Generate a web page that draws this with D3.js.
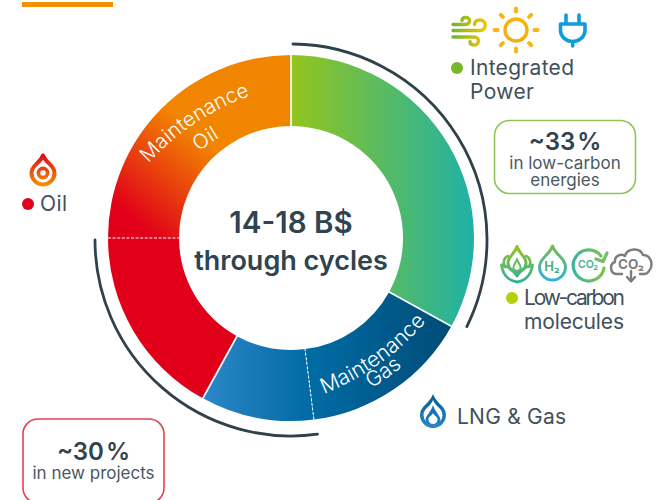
<!DOCTYPE html>
<html>
<head>
<meta charset="utf-8">
<script src="https://cdn.jsdelivr.net/npm/d3@7"></script>
<style>
  html, body { margin: 0; padding: 0; background: #fff; overflow: hidden; }
  svg { display: block; }
  text { font-family: Inter, "Open Sans", sans-serif; fill: #41505b; }
</style>
</head>
<body>
<svg id="chart" width="667" height="500"></svg>
<script>
"use strict";

// Slices, clockwise from the top
const sliceNames = ["Integrated Power", "Maintenance Gas", "New Gas", "New Oil", "Maintenance Oil"];
const sliceShares = [33, 15, 10, 17, 25];
const sliceFamilies = ["Power", "Gas", "Gas", "Oil", "Oil"];

// The two dark brackets around the ring
const bracketSlices = [["Integrated Power"], ["New Gas", "New Oil"]];

const centerLines = ["14-18 B$", "through cycles"];
const powerLabel = ["Integrated", "Power"];
const moleculesLabel = ["Low-carbon", "molecules"];
const gasLabel = "LNG & Gas";
const oilLabel = "Oil";
const lowCarbonBox = ["~33 %", "in low-carbon", "energies"];
const projectsBox = ["~30 %", "in new projects"];

const svg = d3.select("#chart");
const defs = svg.append("defs");

const cx = 291, cy = 238, outerR = 183, innerR = 112;

function addGradient(id, x1, y1, x2, y2, stops) {
  const g = defs.append("linearGradient")
    .attr("id", id)
    .attr("gradientUnits", "userSpaceOnUse")
    .attr("x1", x1).attr("y1", y1).attr("x2", x2).attr("y2", y2);
  stops.forEach(function (s, i) {
    g.append("stop").attr("offset", i / (stops.length - 1)).attr("stop-color", s);
  });
}

// gradients of the ring, relative to its center
addGradient("grad-Integrated-Power", 0, 0, 183, 0, ["#93c51c", "#1fb1a7"]);
addGradient("grad-Maintenance-Gas", 23, 120, 165, 120, ["#006ba3", "#004a74"]);
addGradient("grad-New-Gas", -86, 0, 23, 0, ["#2b87c6", "#0069a3"]);
addGradient("grad-New-Oil", 0, 0, 1, 0, ["#e1001a", "#e1001a"]);
addGradient("grad-Maintenance-Oil", -165, -25, -95, -105, ["#e1001a", "#f18500"]);

// gradients of the icons, page coordinates
addGradient("icon-wind", 452, 0, 487, 0, ["#6fb62c", "#f6c700"]);
addGradient("icon-sun", 0, 6, 0, 52, ["#fbb900", "#f9a51a"]);
addGradient("icon-oil", 0, 153, 0, 186, ["#e2001a", "#f39200"]);
addGradient("icon-gas", 0, 394, 0, 428, ["#005f92", "#2b87c6"]);
addGradient("icon-lotus", 0, 244, 0, 283, ["#9cc31a", "#2cb3a0"]);
addGradient("icon-h2", 0, 244, 0, 281, ["#7dbd42", "#2fb1df"]);
addGradient("icon-cycle", 572, 0, 607, 0, ["#39b4a0", "#83c341"]);

// ---- ring ----
const pie = d3.pie().value(d => d.share).sort(null);
const arc = d3.arc().innerRadius(innerR).outerRadius(outerR);
const slices = pie(sliceNames.map((name, i) => ({ name: name, share: sliceShares[i], family: sliceFamilies[i] })));

const ring = svg.append("g").attr("transform", "translate(" + cx + "," + cy + ")");

ring.selectAll("path.slice")
  .data(slices)
  .enter()
  .append("path")
    .attr("class", "slice")
    .attr("d", arc)
    .attr("fill", d => "url(#grad-" + d.data.name.replace(" ", "-") + ")");

// separators, dashed inside one family and solid between two
ring.selectAll("line.sep")
  .data(slices)
  .enter()
  .append("line")
    .attr("class", "sep")
    .attr("x1", d => Math.sin(d.startAngle) * (innerR - 1))
    .attr("y1", d => -Math.cos(d.startAngle) * (innerR - 1))
    .attr("x2", d => Math.sin(d.startAngle) * (outerR + 1))
    .attr("y2", d => -Math.cos(d.startAngle) * (outerR + 1))
    .attr("stroke", "#fff")
    .attr("stroke-width", (d, i) => sameFamily(i) ? 1 : 1.7)
    .attr("stroke-dasharray", (d, i) => sameFamily(i) ? "3 1.6" : null);

function sameFamily(i) {
  return sliceFamilies[i] === sliceFamilies[(i + sliceFamilies.length - 1) % sliceFamilies.length];
}

// ---- brackets ----
const bracketR = 196;
bracketSlices.forEach(function (names, i) {
  const picked = slices.filter(d => names.includes(d.data.name));
  const a0 = picked[0].startAngle + (i === 0 ? 0.01 : -0.01);
  const a1 = picked[picked.length - 1].endAngle - (i === 0 ? 0.045 : 0);
  const p = d3.path();
  p.arc(cx, cy + 2, bracketR, a0 - Math.PI / 2, a1 - Math.PI / 2);
  svg.append("path")
    .attr("class", "bracket")
    .attr("d", p.toString())
    .attr("fill", "none")
    .attr("stroke", "#2f4249")
    .attr("stroke-width", 2.8)
    .attr("stroke-linecap", "round");
});

// ---- curved labels on the ring ----
function curvedLabel(id, x, y, r, midDeg, ccw, size, label) {
  const rad = Math.PI / 180;
  const p = d3.path();
  const a0 = (midDeg + (ccw ? 40 : -40)) * rad;
  const a1 = (midDeg + (ccw ? -40 : 40)) * rad;
  p.arc(x, y, r, a0, a1, ccw);
  defs.append("path").attr("id", id).attr("d", p.toString());
  svg.append("text")
    .attr("font-size", size)
    .style("fill", "#fff")
    .style("font-weight", 300)
    .attr("text-anchor", "middle")
    .append("textPath")
      .attr("href", "#" + id)
      .attr("startOffset", "50%")
      .text(label);
}
curvedLabel("path-oil-1", 339, 340, 260, -123.6, false, 20.5, "Maintenance");
curvedLabel("path-oil-2", 339, 340, 235, -123.6, false, 20.5, "Oil");
curvedLabel("path-gas-1", 228, 150, 262, 54.7, true, 21, "Maintenance");
curvedLabel("path-gas-2", 228, 150, 278, 55.1, true, 21, "Gas");

// ---- center ----
svg.selectAll("text.center")
  .data(centerLines)
  .enter()
  .append("text")
    .attr("class", "center")
    .attr("x", cx)
    .attr("y", (d, i) => i === 0 ? 232.5 : 269.5)
    .attr("text-anchor", "middle")
    .attr("font-size", (d, i) => i === 0 ? 29.5 : 27)
    .attr("font-weight", 600)
    .style("fill", "#2f4350")
    .text(d => d);

// ---- legend labels ----
function legend(lines, widths, x, y, dotX, dotY, dotColor) {
  if (dotColor) {
    svg.append("circle").attr("cx", dotX).attr("cy", dotY).attr("r", 6).attr("fill", dotColor);
  }
  lines.forEach(function (line, i) {
    svg.append("text")
      .attr("x", x)
      .attr("y", y + i * 24.7)
      .attr("font-size", 21)
      .attr("textLength", widths[i])
      .attr("lengthAdjust", "spacing")
      .text(line);
  });
}
legend(powerLabel, [104, 64], 470, 74.5, 457, 68, "#76b82a");
legend(moleculesLabel, [101, 100], 524, 304.5, 512, 298, "#b5cf0a");
legend([gasLabel], [109], 457, 423.5);
legend([oilLabel], [27], 40, 210.7, 28, 204, "#e2001a");

// ---- boxes ----
function box(lines, x, y, w, h, stroke, firstBase) {
  svg.append("rect")
    .attr("x", x).attr("y", y).attr("width", w).attr("height", h)
    .attr("rx", 15)
    .attr("fill", "#fff")
    .attr("stroke", stroke)
    .attr("stroke-width", 1.6);
  lines.forEach(function (line, i) {
    svg.append("text")
      .attr("x", x + w / 2)
      .attr("y", i === 0 ? firstBase : firstBase + 18.5 + (i - 1) * 17)
      .attr("text-anchor", "middle")
      .attr("font-size", i === 0 ? 24 : 17)
      .attr("font-weight", i === 0 ? 600 : 400)
      .attr("word-spacing", i === 0 ? -4 : 0)
      .style("fill", i === 0 ? "#2f4350" : "#4a5862")
      .text(line);
  });
}
box(lowCarbonBox, 494.5, 120.5, 141, 73, "#8dc556", 150);
box(projectsBox, 23, 419, 141, 84, "#e6414f", 460);

// ---- top accent ----
svg.append("rect").attr("x", 22).attr("y", 2).attr("width", 91).attr("height", 5).attr("fill", "#f39200");

// ---- icons ----
function dropPath(x, top, bottom, r) {
  const c = bottom - r;
  return "M" + x + "," + top +
    "C" + (x + r * 0.25) + "," + (top + (c - top) * 0.45) + " " + (x + r) + "," + (c - r * 0.7) + " " + (x + r) + "," + c +
    "A" + r + "," + r + " 0 1 1 " + (x - r) + "," + c +
    "C" + (x - r) + "," + (c - r * 0.7) + " " + (x - r * 0.25) + "," + (top + (c - top) * 0.45) + " " + x + "," + top + "Z";
}

function strokePath(d, stroke, width) {
  return svg.append("path")
    .attr("d", d)
    .attr("fill", "none")
    .attr("stroke", stroke)
    .attr("stroke-width", width)
    .attr("stroke-linecap", "round")
    .attr("stroke-linejoin", "round");
}

// wind
strokePath("M453,24.5H465C471,24.5 471,17.5 466,17.5C463,17.5 462,19 462,20.5", "url(#icon-wind)", 3.4);
strokePath("M453,30.5H480C487,30.5 487,20 480,20C476,20 474.5,22.5 474.5,24.5", "url(#icon-wind)", 3.4);
strokePath("M453,37H474C480,37 480,45 474,45C471,45 470,43.5 470,41.5", "url(#icon-wind)", 3.4);

// sun
svg.append("circle").attr("cx", 516).attr("cy", 30).attr("r", 11)
  .attr("fill", "none").attr("stroke", "url(#icon-sun)").attr("stroke-width", 3.4);
d3.range(8).forEach(function (i) {
  const a = i * Math.PI / 4;
  strokePath("M" + (516 + Math.cos(a) * 18.5) + "," + (30 + Math.sin(a) * 18.5) +
    "L" + (516 + Math.cos(a) * 21.5) + "," + (30 + Math.sin(a) * 21.5), "#fbb415", 4);
});

// plug
strokePath("M566,15V24M579,15V24M560.5,24H585V30C585,37 579,41.5 572.7,41.5C566.5,41.5 560.5,37 560.5,30ZM572.7,41.5V46", "#0f9bdc", 3.6);

// oil drop
strokePath(dropPath(43, 155.5, 184.5, 11.5), "url(#icon-oil)", 4);
svg.append("circle").attr("cx", 43).attr("cy", 173).attr("r", 4.6)
  .attr("fill", "none").attr("stroke", "url(#icon-oil)").attr("stroke-width", 3.6);

// gas drop
svg.append("path").attr("d", dropPath(433, 394, 428, 13)).attr("fill", "url(#icon-gas)");
svg.append("path").attr("d", dropPath(433, 400, 424.5, 9.5)).attr("fill", "#fff");
svg.append("path").attr("d", dropPath(433, 405, 428, 7.5)).attr("fill", "url(#icon-gas)");
svg.append("path").attr("d", dropPath(433, 413, 424, 4.5)).attr("fill", "#fff");

// lotus
strokePath(dropPath(517, 246.5, 272, 9), "url(#icon-lotus)", 3);
strokePath(dropPath(517, 259, 271, 3.6), "url(#icon-lotus)", 2);
strokePath("M508,256C503,258 503,264 505,267M526,256C531,258 531,264 529,267", "url(#icon-lotus)", 2.6);
strokePath("M501.5,265C503,276 510,281 517,282C524,281 531,276 532.5,265C526,266 520,271 517,276C514,271 508,266 501.5,265Z", "url(#icon-lotus)", 2.8);

// H2 drop
strokePath(dropPath(552.5, 246, 280, 13), "url(#icon-h2)", 3);
svg.append("text").attr("x", 552).attr("y", 271).attr("text-anchor", "middle")
  .attr("font-size", 13).attr("font-weight", 700).style("fill", "#4bb58c").text("H₂");

// CO2 cycle
strokePath("M601,256A15.5,15.5 0 1 0 604,268", "url(#icon-cycle)", 3.2);
strokePath("M596,259L603,261.5L607,253", "#6fc06a", 3.2);
svg.append("text").attr("x", 588).attr("y", 268).attr("text-anchor", "middle")
  .attr("font-size", 10.5).attr("font-weight", 600).style("fill", "#3db592").text("CO₂");

// CO2 cloud
strokePath("M622,274H617C610,274 609,264 615,262C614,256 621,253 625,256C627,248 640,247 643,255C651,255 654,265 649,271C648,273 646,274 644,274H640",
  "#7c7d7f", 2.4);
strokePath("M631,271V281M627,277L631,281.5L635,277", "#7c7d7f", 2.4);
svg.append("text").attr("x", 631).attr("y", 269).attr("text-anchor", "middle")
  .attr("font-size", 13.5).attr("font-weight", 700).style("fill", "#7c7d7f").text("CO₂");
</script>
</body>
</html>
